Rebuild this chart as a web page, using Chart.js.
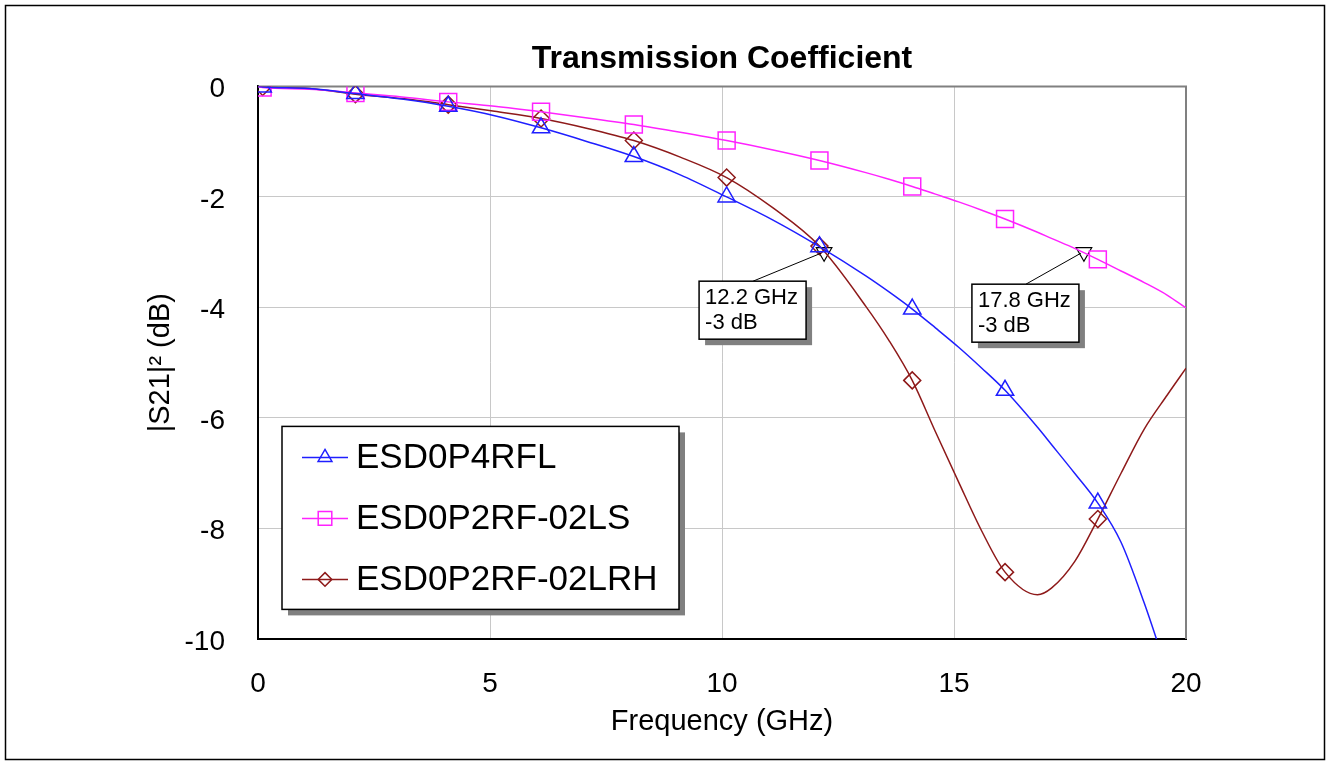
<!DOCTYPE html>
<html>
<head>
<meta charset="utf-8">
<title>Transmission Coefficient</title>
<style>
  html, body { margin: 0; padding: 0; background: #fff; }
  canvas { display: block; }
</style>
</head>
<body>
<canvas id="s21-chart" width="1330" height="765"></canvas>
<script src="https://cdn.jsdelivr.net/npm/chart.js@4.4.1/dist/chart.umd.min.js"></script>
<script>
// values (GHz / dB)
const freqGHz = [0, 0.1, 1.1, 2.1, 3.1, 4.1, 5.1, 6.1, 7.1, 8.1, 9.1, 10.1, 11.1, 12.1, 13.1, 13.6, 14.1, 14.6, 15.1, 15.6, 16.1, 16.8, 17.1, 17.6, 18.1, 18.6, 19.1, 19.6, 20];
const markerFreqs = [0.1, 2.1, 4.1, 6.1, 8.1, 10.1, 12.1, 14.1, 16.1, 18.1];

const esd0p4rfl = [0, -0.01, -0.04, -0.13, -0.23, -0.36, -0.53, -0.75, -1.0, -1.27, -1.6, -2.0, -2.42, -2.9, -3.43, -3.72, -4.03, -4.37, -4.72, -5.1, -5.5, -6.17, -6.48, -7.0, -7.54, -8.25, -9.35, -10.6, -11.6];
const esd0p2rf02ls = [0, -0.02, -0.05, -0.12, -0.19, -0.28, -0.36, -0.46, -0.57, -0.69, -0.83, -0.98, -1.15, -1.34, -1.56, -1.68, -1.81, -1.95, -2.09, -2.24, -2.4, -2.64, -2.75, -2.93, -3.13, -3.34, -3.55, -3.78, -4.01];
const esd0p2rf02lrh = [0, -0.01, -0.04, -0.14, -0.22, -0.33, -0.45, -0.58, -0.76, -0.98, -1.28, -1.65, -2.2, -2.89, -3.98, -4.6, -5.32, -6.25, -7.16, -8.05, -8.79, -9.2, -9.08, -8.6, -7.83, -7.0, -6.2, -5.58, -5.1];

const seriesNames = ['ESD0P4RFL', 'ESD0P2RF-02LS', 'ESD0P2RF-02LRH'];

// -3 dB markers
const cutoffFreqs = [12.2, 17.8];
const cutoffLevels = [-3, -3];
const cutoffLabels = [['12.2 GHz', '-3 dB'], ['17.8 GHz', '-3 dB']];

const xTicks = [0, 5, 10, 15, 20];
const yTicks = [0, -2, -4, -6, -8, -10];

const FONT = '"Liberation Sans", Arial, sans-serif';

function toPoints(vals) {
  return freqGHz.map((f, i) => ({ x: f, y: vals[i] }));
}

function markerRadius(r) {
  return (c) => markerFreqs.includes(freqGHz[c.dataIndex]) ? r : 0;
}

function makeSeries(label, vals, color, style, r) {
  return {
    label: label,
    data: toPoints(vals),
    borderColor: color,
    borderWidth: 1.5,
    pointStyle: style,
    pointRadius: markerRadius(r),
    pointBorderColor: color,
    pointBackgroundColor: 'rgba(0,0,0,0)',
    pointBorderWidth: 1.5,
    cubicInterpolationMode: 'monotone',
    markerSize: r,
  };
}

// small marker for the legend
function drawMarker(ctx, style, x, y, r) {
  ctx.beginPath();
  if (style === 'triangle') {
    ctx.moveTo(x, y - r);
    ctx.lineTo(x + 0.866 * r, y + 0.5 * r);
    ctx.lineTo(x - 0.866 * r, y + 0.5 * r);
    ctx.closePath();
  } else if (style === 'rect') {
    const s = r * Math.SQRT1_2;
    ctx.rect(x - s, y - s, 2 * s, 2 * s);
  } else {
    ctx.moveTo(x, y - r);
    ctx.lineTo(x + r, y);
    ctx.lineTo(x, y + r);
    ctx.lineTo(x - r, y);
    ctx.closePath();
  }
  ctx.stroke();
}

function shadowBox(ctx, x, y, w, h) {
  ctx.fillStyle = '#808080';
  ctx.fillRect(x + 6, y + 6, w, h);
  ctx.fillStyle = '#fff';
  ctx.fillRect(x, y, w, h);
  ctx.strokeStyle = '#000';
  ctx.lineWidth = 1.5;
  ctx.strokeRect(x, y, w, h);
}

const decorations = {
  id: 'decorations',
  beforeDatasetsDraw(chart) {
    const { ctx, chartArea: a } = chart;
    ctx.save();
    ctx.strokeStyle = '#808080';
    ctx.lineWidth = 2;
    ctx.beginPath();
    ctx.moveTo(a.left, a.top);
    ctx.lineTo(a.right, a.top);
    ctx.lineTo(a.right, a.bottom);
    ctx.stroke();
    ctx.restore();
  },
  afterDatasetsDraw(chart) {
    const { ctx, chartArea: a, scales } = chart;
    ctx.save();

    // legend
    const lx = a.left + 24, ly = a.top + 340;
    shadowBox(ctx, lx, ly, 397, 183);
    chart.data.datasets.slice(0, 3).forEach((ds, i) => {
      const y = ly + 31 + i * 61;
      ctx.strokeStyle = ds.borderColor;
      ctx.lineWidth = 1.5;
      ctx.beginPath();
      ctx.moveTo(lx + 20, y);
      ctx.lineTo(lx + 66, y);
      ctx.stroke();
      drawMarker(ctx, ds.pointStyle, lx + 43, y, ds.markerSize * 0.8);
      ctx.fillStyle = '#000';
      ctx.font = '35px ' + FONT;
      ctx.textBaseline = 'middle';
      ctx.textAlign = 'left';
      ctx.fillText(ds.label, lx + 74, y + 1);
    });

    // -3 dB notes
    const offsets = [[-125, 29], [-112, 32]];
    cutoffFreqs.forEach((f, i) => {
      const px = scales.x.getPixelForValue(f);
      const py = scales.y.getPixelForValue(cutoffLevels[i]);
      const bx = px + offsets[i][0], by = py + offsets[i][1];
      ctx.strokeStyle = '#000';
      ctx.lineWidth = 1;
      ctx.beginPath();
      ctx.moveTo(bx + 54, by);
      ctx.lineTo(px - 3, py + 1);
      ctx.stroke();
      shadowBox(ctx, bx, by, 107, 58);
      ctx.fillStyle = '#000';
      ctx.font = '22px ' + FONT;
      ctx.textBaseline = 'middle';
      ctx.textAlign = 'left';
      ctx.fillText(cutoffLabels[i][0], bx + 6, by + 17);
      ctx.fillText(cutoffLabels[i][1], bx + 6, by + 42);
    });
    ctx.restore();
  },
  afterDraw(chart) {
    const { ctx, width, height } = chart;
    ctx.save();
    ctx.strokeStyle = '#000';
    ctx.lineWidth = 1.5;
    ctx.strokeRect(5.5, 5.5, width - 11, height - 11);
    ctx.restore();
  }
};

const ctx = document.getElementById('s21-chart').getContext('2d');
new Chart(ctx, {
  type: 'line',
  data: {
    datasets: [
      makeSeries(seriesNames[0], esd0p4rfl, '#1f1fff', 'triangle', 10),
      makeSeries(seriesNames[1], esd0p2rf02ls, '#ff22ff', 'rect', 12),
      makeSeries(seriesNames[2], esd0p2rf02lrh, '#8e1a1a', 'rectRot', 8.5),
      {
        label: '-3 dB',
        data: cutoffFreqs.map((f, i) => ({ x: f, y: cutoffLevels[i] })),
        showLine: false,
        pointStyle: 'triangle',
        rotation: 180,
        pointRadius: 9,
        pointBorderColor: '#000',
        pointBackgroundColor: 'rgba(0,0,0,0)',
        pointBorderWidth: 1.2,
        clip: false,
      },
    ]
  },
  options: {
    responsive: false,
    animation: false,
    devicePixelRatio: 1,
    events: [],
    layout: { padding: { top: 0, left: 0, right: 144, bottom: 0 } },
    plugins: {
      legend: { display: false },
      tooltip: { enabled: false },
      title: {
        display: true,
        fullSize: false,
        text: 'Transmission Coefficient',
        color: '#000',
        font: { family: FONT, size: 32, weight: 'bold', lineHeight: 1.2 },
        padding: { top: 40, bottom: 8 }
      }
    },
    scales: {
      x: {
        type: 'linear',
        min: 0,
        max: 20,
        afterFit: (s) => { s.height = 126; },
        afterBuildTicks: (s) => { s.ticks = xTicks.map(v => ({ value: v })); },
        ticks: { color: '#000', font: { family: FONT, size: 28 }, padding: 28, maxRotation: 0 },
        grid: { color: '#c8c8c8', lineWidth: 1, drawTicks: false },
        border: { color: '#000', width: 2 },
        title: {
          display: true,
          text: 'Frequency (GHz)',
          color: '#000',
          font: { family: FONT, size: 29 },
          padding: { bottom: 26 }
        }
      },
      y: {
        min: -10,
        max: 0,
        afterFit: (s) => { s.width = 258; },
        afterBuildTicks: (s) => { s.ticks = yTicks.map(v => ({ value: v })); },
        ticks: { color: '#000', font: { family: FONT, size: 28 }, padding: 33, labelOffset: 3 },
        grid: { color: '#c8c8c8', lineWidth: 1, drawTicks: false },
        border: { color: '#000', width: 2 },
        title: {
          display: true,
          text: '|S21|² (dB)',
          color: '#000',
          font: { family: FONT, size: 29 },
          padding: { top: 144 }
        }
      }
    }
  },
  plugins: [decorations]
});
</script>
</body>
</html>
